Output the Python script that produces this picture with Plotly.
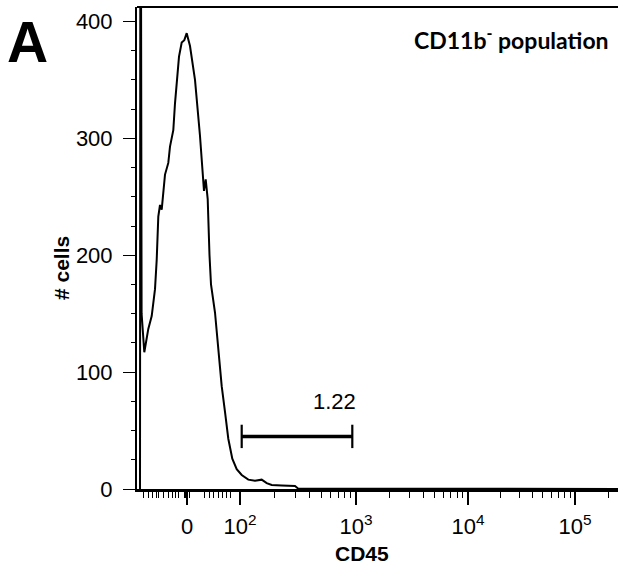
import plotly.graph_objects as go
import math

# ---------------- data (x in display channels of the biexponential CD45 axis) ----------------
cd45_channel = [3.0, 3.5, 4.6, 7.3, 11.3, 14.7, 18.0, 19.7, 21.3, 23.0, 24.7, 27.3, 28.0,
                31.3, 33.0, 36.3, 38.0, 42.0, 44.7, 47.3, 49.7, 53.0, 58.0, 63.0, 67.0,
                68.7, 70.7, 72.5, 74.0, 78.0, 81.3, 84.7, 88.0, 91.3, 95.3, 99.7, 104.7,
                111.3, 118.0, 124.7, 129.7, 134.7, 144.7, 158.0, 161.0, 481.0]
cell_count = [0, 700, 150, 117, 137, 148, 171, 196, 233, 243, 239, 262, 269,
              279, 293, 307, 330, 370, 382, 384, 390, 379, 350, 302, 255,
              265, 248, 200, 175, 151, 117, 88, 66, 43, 26, 17, 12,
              8, 7, 8, 5, 3.4, 3, 2.5, 0.5, 0]

# axis ticks (display channel positions of the decade labels)
x_major_ticks = [50, 103, 219, 331, 438]
x_major_labels = ["0", "10<sup>2</sup>", "10<sup>3</sup>", "10<sup>4</sup>", "10<sup>5</sup>"]
x_minor_ticks_low = [6.7, 11, 15, 19, 21.7, 26, 31, 35, 38.3, 41.7, 47, 48.5, 50.5, 52,
                     67.7, 72.3, 76.7, 81, 85, 89.3, 93.3]
decade_multipliers = [2, 3, 4, 5, 6, 7, 8, 9]
next_decade_channel = 548

# gate
gate_start = 104.7
gate_end = 215.3
gate_level = 45
gate_label = "1.22"

# ---------------- figure ----------------
W, H = 618, 567
L, R, T, B = 137, 0, 7, 78
pw, ph = W - L - R, H - T - B
x_range = [0, 481]
y_range = [0, 412.4]
SANS = "Arial"

def px_x(px):
    return (px - L) / pw

def px_y(py):
    return (H - B - py) / ph

# minor ticks within each decade (log spacing between decade channels)
decades = x_major_ticks[1:] + [next_decade_channel]
x_minor = list(x_minor_ticks_low)
for a, b in zip(decades[:-1], decades[1:]):
    for m in decade_multipliers:
        x_minor.append(a + math.log10(m) * (b - a))
x_minor = [v for v in x_minor if v <= x_range[1]]

fig = go.Figure()
fig.add_trace(go.Scatter(x=cd45_channel, y=cell_count, mode="lines",
                         line=dict(color="black", width=2), hoverinfo="skip"))

cap = 10
fig.add_trace(go.Scatter(x=[gate_start, gate_end], y=[gate_level, gate_level], mode="lines",
                         line=dict(color="black", width=3.5), hoverinfo="skip"))
fig.add_trace(go.Scatter(x=[gate_start, gate_start, None, gate_end, gate_end],
                         y=[gate_level - cap, gate_level + cap, None, gate_level - cap, gate_level + cap],
                         mode="lines", line=dict(color="black", width=2.2), hoverinfo="skip"))
fig.add_annotation(x=(gate_start + gate_end) / 2 + 37, y=gate_level + 30, text=gate_label,
                   showarrow=False, font=dict(family=SANS, size=22, color="black"),
                   xanchor="center", yanchor="middle")

axis_font = dict(family=SANS, size=22, color="black")
fig.update_layout(
    width=W, height=H, margin=dict(l=L, r=R, t=T, b=B, pad=0),
    paper_bgcolor="white", plot_bgcolor="white", showlegend=False,
    font=dict(family=SANS),
    xaxis=dict(range=x_range, showline=True, linewidth=3, linecolor="black",
               ticks="outside", ticklen=13, tickwidth=1.6, tickcolor="black",
               tickmode="array", tickvals=x_major_ticks, ticktext=x_major_labels,
               tickfont=axis_font, showgrid=False, zeroline=False, ticklabelstandoff=3,
               minor=dict(tickmode="array", tickvals=x_minor, ticks="outside",
                          ticklen=6, tickwidth=1.2, tickcolor="black", showgrid=False)),
    yaxis=dict(range=y_range, showline=True, linewidth=2, linecolor="black",
               ticks="outside", ticklen=12, tickwidth=1.4, tickcolor="black",
               tick0=0, dtick=100, tickfont=axis_font, showgrid=False, zeroline=False,
               ticklabelstandoff=6,
               minor=dict(dtick=25, tick0=0, ticks="outside", ticklen=4, tickwidth=1.2,
                          tickcolor="black", showgrid=False)),
)

# top frame line
fig.add_shape(type="line", xref="paper", yref="paper", x0=0, x1=1, y0=1, y1=1,
              line=dict(color="black", width=2))

# texts
fig.add_annotation(xref="paper", yref="paper", x=px_x(611), y=px_y(39), text="CD11b<sup>-</sup> population",
                   showarrow=False, xanchor="right", yanchor="middle",
                   font=dict(family="Lato", size=23, color="black", weight="bold"))
fig.add_annotation(xref="paper", yref="paper", x=px_x(27), y=px_y(42), text="A",
                   showarrow=False, xanchor="center", yanchor="middle",
                   font=dict(family=SANS, size=57, color="black", weight="bold"))
fig.add_annotation(xref="paper", yref="paper", x=px_x(362), y=px_y(553), text="CD45",
                   showarrow=False, xanchor="center", yanchor="middle",
                   font=dict(family=SANS, size=21, color="black", weight="bold"))
fig.add_annotation(xref="paper", yref="paper", x=px_x(61), y=px_y(268), text="# cells",
                   showarrow=False, xanchor="center", yanchor="middle", textangle=-90,
                   font=dict(family=SANS, size=21, color="black", weight="bold"))

fig.write_html("out.html")
